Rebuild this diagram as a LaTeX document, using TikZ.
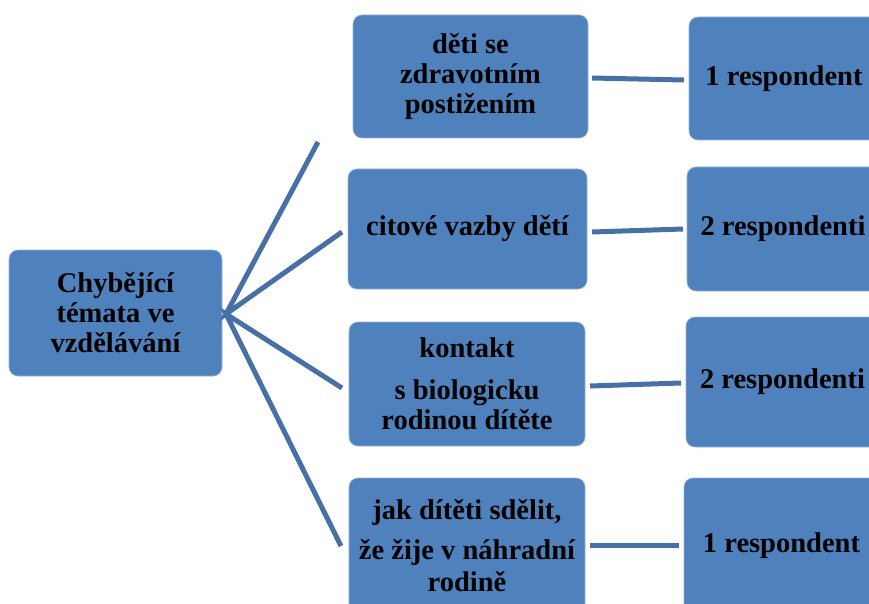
\documentclass[tikz,border=0pt]{standalone}
\usepackage{fontspec}
\setmainfont{Liberation Serif}
\definecolor{boxblue}{RGB}{79,129,189}
\definecolor{lineblue}{RGB}{70,112,166}
\begin{document}
\begin{tikzpicture}[x=1pt,y=-1pt,
  topic/.style={draw=boxblue!60!white, line width=0.6pt, fill=boxblue, rounded corners=9pt,
    inner sep=0pt, align=center, text=black,
    font=\fontsize{28.5}{30}\selectfont\bfseries},
  link/.style={draw=lineblue, line width=5pt}]
\clip (0,0) rectangle (869,604);
\useasboundingbox (0,0) rectangle (869,604);
\fill[white] (0,0) rectangle (869,604);
% left
\node[topic, minimum width=213pt, minimum height=126pt] (L) at (115.5,313) {Chybějící\\témata ve\\vzdělávání};
% middle
\node[topic, minimum width=235pt, minimum height=123pt] (M1) at (470.5,76.5) {děti se\\zdravotním\\postižením};
\node[topic, minimum width=239pt, minimum height=120pt] (M2) at (467.5,229) {citové vazby dětí};
\node[topic, minimum width=236pt, minimum height=124pt] (M3) at (467,384) {kontakt\\[12pt] s biologicku\\rodinou dítěte};
\node[topic, minimum width=236pt, minimum height=136pt] (M4) at (467,546) {jak dítěti sdělit,\\[10pt]že žije v náhradní\\[2pt]rodině};
% right
\node[topic, minimum width=190pt, minimum height=123pt] (R1) at (784,78.5) {\raisebox{-3pt}{1 respondent}};
\node[topic, minimum width=192pt, minimum height=124pt] (R2) at (783,229) {2 respondenti};
\node[topic, minimum width=193pt, minimum height=130pt] (R3) at (782.5,382) {2 respondenti};
\node[topic, minimum width=195pt, minimum height=136pt] (R4) at (781.5,546) {1 respondent};
% connector ends
\coordinate (hub) at (226,314);
\coordinate (e1) at (318,142);
\coordinate (e2) at (342,232);
\coordinate (e3) at (342,388);
\coordinate (e4) at (341,546);
\draw[link] (e1) -- (hub) -- (e2);
\draw[link] (e3) -- (hub) -- (e4);
\coordinate (a1) at (592,78);  \coordinate (b1) at (684,80);
\coordinate (a2) at (592,232); \coordinate (b2) at (683,229);
\coordinate (a3) at (590,386); \coordinate (b3) at (681,383);
\coordinate (a4) at (590,545); \coordinate (b4) at (679,545);
\draw[link] (a1) -- (b1);
\draw[link] (a2) -- (b2);
\draw[link] (a3) -- (b3);
\draw[link] (a4) -- (b4);
\end{tikzpicture}
\end{document}
